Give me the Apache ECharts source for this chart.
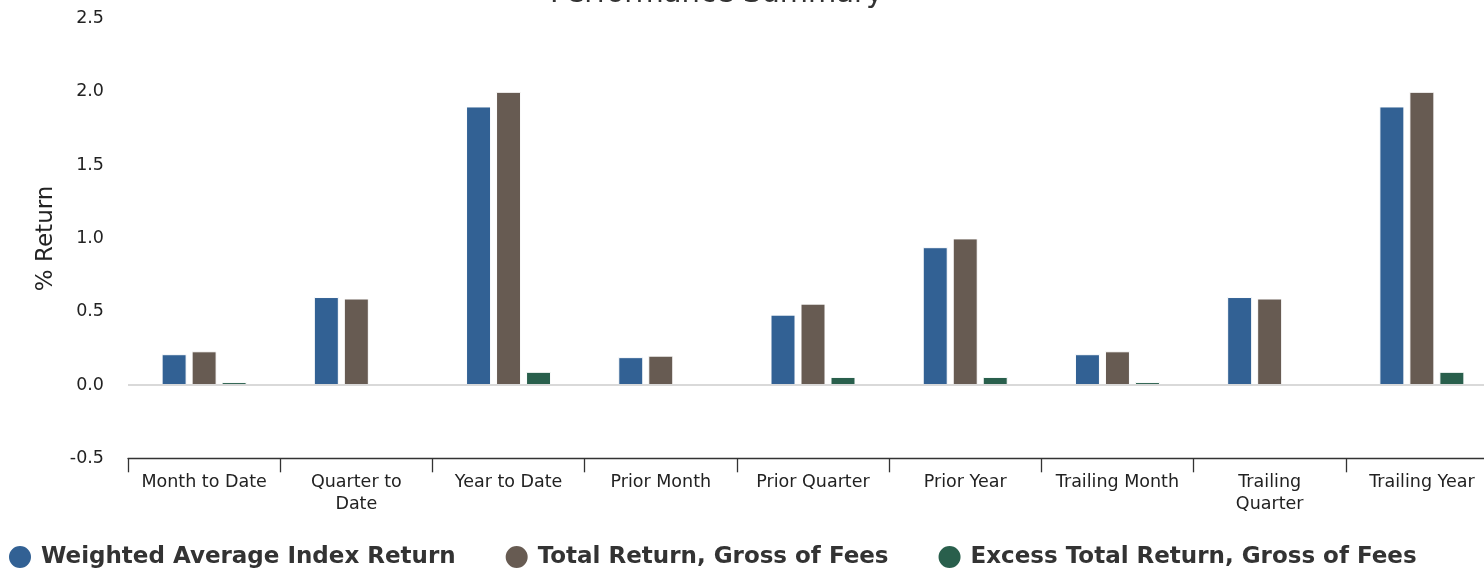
<!DOCTYPE html>
<html>
<head>
<meta charset="utf-8">
<script src="https://cdn.jsdelivr.net/npm/echarts@6/dist/echarts.min.js"></script>
<style>
html,body{margin:0;padding:0;background:#fff;}
#chart{width:1484px;height:569px;}
</style>
</head>
<body>
<div id="chart"></div>
<script>
const categories = ['Month to Date','Quarter to\nDate','Year to Date','Prior Month','Prior Quarter','Prior Year','Trailing Month','Trailing\nQuarter','Trailing Year'];
const seriesNames = ['Weighted Average Index Return','Total Return, Gross of Fees','Excess Total Return, Gross of Fees'];
const weightedIndex = [0.21, 0.60, 1.90, 0.19, 0.48, 0.94, 0.21, 0.60, 1.90];
const totalReturn = [0.23, 0.59, 2.00, 0.20, 0.555, 1.00, 0.23, 0.59, 2.00];
const excessReturn = [0.02, 0, 0.09, 0, 0.055, 0.055, 0.02, 0, 0.09];
const yTicks = [-0.5, 0.0, 0.5, 1.0, 1.5, 2.0, 2.5];
const colors = ['#326194', '#675b52', '#295f4c'];

const FONT = 'DejaVu Sans';
const chart = echarts.init(document.getElementById('chart'));
const barStyle = (c) => ({ color: c, borderColor: '#ffffff', borderWidth: 1 });
chart.setOption({
  animation: false,
  title: {
    text: 'Performance Summary',
    left: 545, top: -25,
    textStyle: { fontFamily: FONT, fontSize: 29, fontWeight: 'normal', color: '#333' }
  },
  legend: {
    data: seriesNames,
    left: 7, top: 544, padding: 0,
    icon: 'circle', itemWidth: 24, itemHeight: 24, itemGap: 48,
    textStyle: { fontFamily: FONT, fontSize: 23, fontWeight: 'bold', color: '#333', padding: [0,0,0,4] }
  },
  grid: { left: 128, width: 1370, top: 18.5, bottom: 110.7, containLabel: false, outerBoundsMode: 'none' },
  xAxis: {
    type: 'category',
    data: categories,
    axisLine: { show: true, onZero: false, lineStyle: { color: '#333', width: 1.3 } },
    axisTick: { show: true, length: 14, lineStyle: { color: '#333', width: 1.3 } },
    axisLabel: { fontFamily: FONT, fontSize: 17.5, color: '#222', margin: 13, lineHeight: 22, interval: 0 }
  },
  yAxis: {
    type: 'value',
    min: yTicks[0], max: yTicks[yTicks.length-1], interval: 0.5,
    name: '% Return', nameLocation: 'middle', nameGap: 70,
    nameTextStyle: { fontFamily: FONT, fontSize: 23, color: '#222' },
    axisLine: { show: false }, axisTick: { show: false }, splitLine: { show: false },
    axisLabel: { fontFamily: FONT, fontSize: 17.5, color: '#222', margin: 24, formatter: v => v.toFixed(1) }
  },
  series: [
    {
      type: 'line', data: [], z: 1, silent: true,
      markLine: { silent: true, symbol: 'none', label: { show: false },
        lineStyle: { color: '#d9d9d9', width: 2, type: 'solid' }, data: [{ yAxis: 0 }] }
    },
    { name: seriesNames[0], type: 'bar', data: weightedIndex, barWidth: 25, barGap: '20%', itemStyle: barStyle(colors[0]), z: 3 },
    { name: seriesNames[1], type: 'bar', data: totalReturn, barWidth: 25, barGap: '20%', itemStyle: barStyle(colors[1]), z: 3 },
    { name: seriesNames[2], type: 'bar', data: excessReturn, barWidth: 25, barGap: '20%', itemStyle: barStyle(colors[2]), z: 3 }
  ],
  color: colors
});
</script>
</body>
</html>
